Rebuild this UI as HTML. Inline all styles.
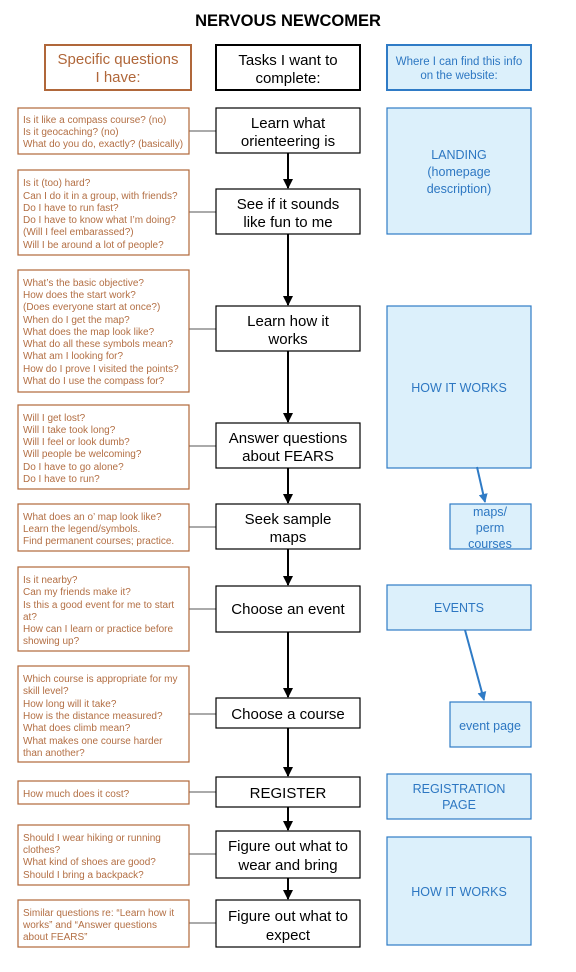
<!DOCTYPE html>
<html><head><meta charset="utf-8"><style>
html,body{margin:0;padding:0;background:#fff;}
svg{display:block;font-family:"Liberation Sans",Arial,sans-serif;}
.q{font-size:10px;fill:#b36f44;}
.c{font-size:15px;fill:#000;text-anchor:middle;}
.b{font-size:12.5px;fill:#2d77c2;text-anchor:middle;}
.ob{fill:#fff;stroke:#b0673a;stroke-width:1.2;}
.cb{fill:#fff;stroke:#000;stroke-width:1.2;}
.bb{fill:#dcf0fb;stroke:#2f7bc6;stroke-width:1.2;}
.ln{stroke:#777;stroke-width:1.2;}
.ar{stroke:#000;stroke-width:2;}
</style></head><body>
<svg width="576" height="972" viewBox="0 0 576 972">
<defs>
<marker id="ah" viewBox="0 0 10 10" refX="9" refY="5" markerWidth="5" markerHeight="5" orient="auto"><path d="M0,0L10,5L0,10z" fill="#000"/></marker>
<marker id="bh" viewBox="0 0 10 10" refX="9" refY="5" markerWidth="4.5" markerHeight="4.5" orient="auto"><path d="M0,0L10,5L0,10z" fill="#2f7bc6"/></marker>
</defs>
<text x="288" y="26" text-anchor="middle" style="font-size:16.5px;font-weight:bold">NERVOUS NEWCOMER</text>

<rect x="45" y="45" width="146" height="45" fill="#fff" stroke="#b0673a" stroke-width="2"/>
<text x="118" y="64" text-anchor="middle" style="font-size:15px;fill:#b0673a">Specific questions</text>
<text x="118" y="82" text-anchor="middle" style="font-size:15px;fill:#b0673a">I have:</text>
<rect x="216" y="45" width="144" height="45" fill="#fff" stroke="#000" stroke-width="2"/>
<text class="c" x="288" y="65">Tasks I want to</text>
<text class="c" x="288" y="83">complete:</text>
<rect x="387" y="45" width="144" height="45" fill="#dcf0fb" stroke="#2f7bc6" stroke-width="2"/>
<text class="b" x="459" y="65" style="font-size:11.5px">Where I can find this info</text>
<text class="b" x="459" y="79" style="font-size:11.5px">on the website:</text>

<g class="ln">
<line x1="189" y1="131" x2="216" y2="131"/>
<line x1="189" y1="212" x2="216" y2="212"/>
<line x1="189" y1="329" x2="216" y2="329"/>
<line x1="189" y1="446" x2="216" y2="446"/>
<line x1="189" y1="527" x2="216" y2="527"/>
<line x1="189" y1="609" x2="216" y2="609"/>
<line x1="189" y1="714" x2="216" y2="714"/>
<line x1="189" y1="792" x2="216" y2="792"/>
<line x1="189" y1="854" x2="216" y2="854"/>
<line x1="189" y1="923" x2="216" y2="923"/>
</g>

<rect class="ob" x="18" y="108" width="171" height="46"/>
<text class="q" x="23" y="123">Is it like a compass course? (no)</text>
<text class="q" x="23" y="135">Is it geocaching? (no)</text>
<text class="q" x="23" y="147">What do you do, exactly? (basically)</text>

<rect class="ob" x="18" y="170" width="171" height="85"/>
<text class="q" x="23" y="186">Is it (too) hard?</text>
<text class="q" x="23" y="199">Can I do it in a group, with friends?</text>
<text class="q" x="23" y="211">Do I have to run fast?</text>
<text class="q" x="23" y="223">Do I have to know what I’m doing?</text>
<text class="q" x="23" y="235">(Will I feel embarassed?)</text>
<text class="q" x="23" y="248">Will I be around a lot of people?</text>

<rect class="ob" x="18" y="270" width="171" height="122"/>
<text class="q" x="23" y="286">What’s the basic objective?</text>
<text class="q" x="23" y="298">How does the start work?</text>
<text class="q" x="23" y="310">(Does everyone start at once?)</text>
<text class="q" x="23" y="323">When do I get the map?</text>
<text class="q" x="23" y="335">What does the map look like?</text>
<text class="q" x="23" y="347">What do all these symbols mean?</text>
<text class="q" x="23" y="359">What am I looking for?</text>
<text class="q" x="23" y="372">How do I prove I visited the points?</text>
<text class="q" x="23" y="384">What do I use the compass for?</text>

<rect class="ob" x="18" y="405" width="171" height="84"/>
<text class="q" x="23" y="421">Will I get lost?</text>
<text class="q" x="23" y="433">Will I take took long?</text>
<text class="q" x="23" y="445">Will I feel or look dumb?</text>
<text class="q" x="23" y="457">Will people be welcoming?</text>
<text class="q" x="23" y="470">Do I have to go alone?</text>
<text class="q" x="23" y="482">Do I have to run?</text>

<rect class="ob" x="18" y="504" width="171" height="47"/>
<text class="q" x="23" y="520">What does an o’ map look like?</text>
<text class="q" x="23" y="532">Learn the legend/symbols.</text>
<text class="q" x="23" y="544">Find permanent courses; practice.</text>

<rect class="ob" x="18" y="567" width="171" height="84"/>
<text class="q" x="23" y="583">Is it nearby?</text>
<text class="q" x="23" y="595">Can my friends make it?</text>
<text class="q" x="23" y="608">Is this a good event for me to start</text>
<text class="q" x="23" y="620">at?</text>
<text class="q" x="23" y="632">How can I learn or practice before</text>
<text class="q" x="23" y="644">showing up?</text>

<rect class="ob" x="18" y="666" width="171" height="96"/>
<text class="q" x="23" y="682">Which course is appropriate for my</text>
<text class="q" x="23" y="694">skill level?</text>
<text class="q" x="23" y="707">How long will it take?</text>
<text class="q" x="23" y="719">How is the distance measured?</text>
<text class="q" x="23" y="731">What does climb mean?</text>
<text class="q" x="23" y="744">What makes one course harder</text>
<text class="q" x="23" y="756">than another?</text>

<rect class="ob" x="18" y="781" width="171" height="23"/>
<text class="q" x="23" y="797">How much does it cost?</text>

<rect class="ob" x="18" y="825" width="171" height="60"/>
<text class="q" x="23" y="841">Should I wear hiking or running</text>
<text class="q" x="23" y="853">clothes?</text>
<text class="q" x="23" y="865">What kind of shoes are good?</text>
<text class="q" x="23" y="878">Should I bring a backpack?</text>

<rect class="ob" x="18" y="900" width="171" height="47"/>
<text class="q" x="23" y="916">Similar questions re: “Learn how it</text>
<text class="q" x="23" y="928">works” and “Answer questions</text>
<text class="q" x="23" y="940">about FEARS”</text>

<g class="ar">
<line x1="288" y1="153" x2="288" y2="188" marker-end="url(#ah)"/>
<line x1="288" y1="234" x2="288" y2="305" marker-end="url(#ah)"/>
<line x1="288" y1="351" x2="288" y2="422" marker-end="url(#ah)"/>
<line x1="288" y1="468" x2="288" y2="503" marker-end="url(#ah)"/>
<line x1="288" y1="549" x2="288" y2="585" marker-end="url(#ah)"/>
<line x1="288" y1="632" x2="288" y2="697" marker-end="url(#ah)"/>
<line x1="288" y1="728" x2="288" y2="776" marker-end="url(#ah)"/>
<line x1="288" y1="807" x2="288" y2="830" marker-end="url(#ah)"/>
<line x1="288" y1="878" x2="288" y2="899" marker-end="url(#ah)"/>
</g>

<rect class="cb" x="216" y="108" width="144" height="45"/>
<text class="c" x="288" y="128">Learn what</text><text class="c" x="288" y="146">orienteering is</text>
<rect class="cb" x="216" y="189" width="144" height="45"/>
<text class="c" x="288" y="209">See if it sounds</text><text class="c" x="288" y="227">like fun to me</text>
<rect class="cb" x="216" y="306" width="144" height="45"/>
<text class="c" x="288" y="326">Learn how it</text><text class="c" x="288" y="344">works</text>
<rect class="cb" x="216" y="423" width="144" height="45"/>
<text class="c" x="288" y="443">Answer questions</text><text class="c" x="288" y="461">about FEARS</text>
<rect class="cb" x="216" y="504" width="144" height="45"/>
<text class="c" x="288" y="524">Seek sample</text><text class="c" x="288" y="542">maps</text>
<rect class="cb" x="216" y="586" width="144" height="46"/>
<text class="c" x="288" y="614">Choose an event</text>
<rect class="cb" x="216" y="698" width="144" height="30"/>
<text class="c" x="288" y="719">Choose a course</text>
<rect class="cb" x="216" y="777" width="144" height="30"/>
<text class="c" x="288" y="798">REGISTER</text>
<rect class="cb" x="216" y="831" width="144" height="47"/>
<text class="c" x="288" y="851">Figure out what to</text><text class="c" x="288" y="870">wear and bring</text>
<rect class="cb" x="216" y="900" width="144" height="47"/>
<text class="c" x="288" y="921">Figure out what to</text><text class="c" x="288" y="940">expect</text>

<rect class="bb" x="387" y="108" width="144" height="126"/>
<text class="b" x="459" y="159">LANDING</text>
<text class="b" x="459" y="176">(homepage</text>
<text class="b" x="459" y="193">description)</text>
<rect class="bb" x="387" y="306" width="144" height="162"/>
<text class="b" x="459" y="392">HOW IT WORKS</text>
<rect class="bb" x="450" y="504" width="81" height="45"/>
<text class="b" x="490" y="516">maps/</text>
<text class="b" x="490" y="532">perm</text>
<text class="b" x="490" y="548">courses</text>
<rect class="bb" x="387" y="585" width="144" height="45"/>
<text class="b" x="459" y="612">EVENTS</text>
<rect class="bb" x="450" y="702" width="81" height="45"/>
<text class="b" x="490" y="730">event page</text>
<rect class="bb" x="387" y="774" width="144" height="45"/>
<text class="b" x="459" y="793">REGISTRATION</text>
<text class="b" x="459" y="809">PAGE</text>
<rect class="bb" x="387" y="837" width="144" height="108"/>
<text class="b" x="459" y="896">HOW IT WORKS</text>

<line x1="477" y1="467" x2="485" y2="502" stroke="#2f7bc6" stroke-width="2" marker-end="url(#bh)"/>
<line x1="465" y1="630" x2="484" y2="700" stroke="#2f7bc6" stroke-width="2" marker-end="url(#bh)"/>
</svg>
</body></html>
